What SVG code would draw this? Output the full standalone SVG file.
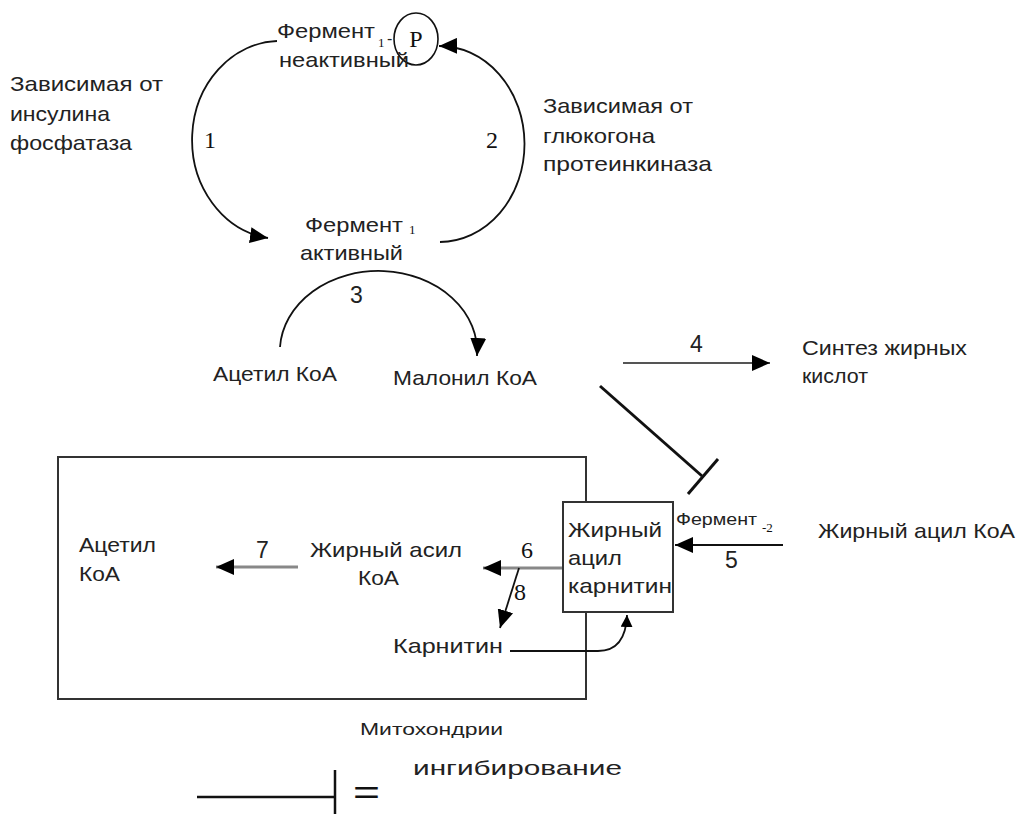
<svg xmlns="http://www.w3.org/2000/svg" width="1024" height="814" viewBox="0 0 1024 814">
  <style>
    .t { font-family: "Liberation Sans", Arial, sans-serif; font-size: 21px; fill: #222; }
    .s { font-family: "Liberation Sans", Arial, sans-serif; font-size: 16px; fill: #222; }
    .n { font-family: "Liberation Serif", "Times New Roman", serif; font-size: 24px; fill: #111; }
    .na { font-family: "Liberation Sans", Arial, sans-serif; font-size: 23px; fill: #222; }
    .sub { font-family: "Liberation Serif", "Times New Roman", serif; font-size: 13px; fill: #111; }
    .ln { fill: none; stroke: #111; stroke-width: 1.8; }
    .gr { fill: none; stroke: #888; stroke-width: 3; }
    .dg { fill: none; stroke: #555; stroke-width: 2; }
    .inh { fill: none; stroke: #111; stroke-width: 3; }
  </style>
  <defs>
    <marker id="ah" markerUnits="userSpaceOnUse" markerWidth="20" markerHeight="16" refX="18" refY="8" orient="auto">
      <path d="M0,0 L18,8 L0,16 Z" fill="#000"/>
    </marker>
    <marker id="ahs" markerUnits="userSpaceOnUse" markerWidth="14" markerHeight="12" refX="12" refY="6" orient="auto">
      <path d="M0,0 L12,6 L0,12 Z" fill="#000"/>
    </marker>
  </defs>
  <rect width="1024" height="814" fill="#fff"/>

  <g id="mitochondria">
    <rect x="58" y="457" width="528" height="242" fill="none" stroke="#333" stroke-width="2"/>
    <text class="s" x="360" y="735" font-size="17" textLength="143" lengthAdjust="spacingAndGlyphs">Митохондрии</text>
  </g>

  <g id="connectors">
    <path class="ln" d="M277,41 A88,99 0 0 0 268,238" marker-end="url(#ah)"/>
    <path class="ln" d="M440,242 A85,98 0 0 0 439,46" marker-end="url(#ah)"/>
    <path class="ln" d="M280,347 A98,80 0 0 1 477,356" marker-end="url(#ah)"/>
    <path class="dg" d="M623,363 L770,363" marker-end="url(#ah)"/>
    <path class="inh" d="M600,386 L702,476"/>
    <path class="inh" d="M718,459 L688,494"/>
    <path class="ln" d="M783,545 L675,545" marker-end="url(#ah)"/>
    <path class="gr" d="M563,568 L483,568" marker-end="url(#ah)"/>
    <path class="gr" d="M298,567 L216,567" marker-end="url(#ah)"/>
    <path class="ln" d="M519,568 L500,628" marker-end="url(#ah)"/>
    <path class="ln" d="M510,651 L598,651 C614,651 626,642 627,615" marker-end="url(#ahs)"/>
  </g>

  <g id="labels">
    <text class="n" x="204" y="148">1</text>
    <text class="n" x="486" y="148">2</text>
    <text class="na" x="350" y="303">3</text>
    <text class="na" x="690" y="352">4</text>
    <text class="na" x="725" y="568">5</text>
    <text class="n" x="521" y="558">6</text>
    <text class="na" x="256" y="558">7</text>
    <text class="n" x="514" y="600">8</text>
  </g>

  <g id="enzyme-inactive">
    <text class="t" x="277" y="38" textLength="98" lengthAdjust="spacingAndGlyphs">Фермент</text>
    <text class="sub" x="378" y="47" font-size="11">1</text>
    <text class="s" x="387" y="44">-</text>
    <ellipse cx="416" cy="39" rx="22" ry="26" fill="none" stroke="#111" stroke-width="1.6"/>
    <text class="n" x="416" y="47" font-size="22" text-anchor="middle">P</text>
    <text class="t" x="279" y="67" textLength="130" lengthAdjust="spacingAndGlyphs">неактивный</text>
  </g>

  <g id="phosphatase">
    <text class="t" x="10" y="91" textLength="153" lengthAdjust="spacingAndGlyphs">Зависимая от</text>
    <text class="t" x="10" y="121" textLength="100" lengthAdjust="spacingAndGlyphs">инсулина</text>
    <text class="t" x="10" y="150" textLength="122" lengthAdjust="spacingAndGlyphs">фосфатаза</text>
  </g>

  <g id="proteinkinase">
    <text class="t" x="543" y="113" textLength="150" lengthAdjust="spacingAndGlyphs">Зависимая от</text>
    <text class="t" x="543" y="143" textLength="112" lengthAdjust="spacingAndGlyphs">глюкогона</text>
    <text class="t" x="543" y="171" textLength="169" lengthAdjust="spacingAndGlyphs">протеинкиназа</text>
  </g>

  <g id="enzyme-active">
    <text class="t" x="305" y="232" textLength="98" lengthAdjust="spacingAndGlyphs">Фермент</text>
    <text class="sub" x="409" y="234">1</text>
    <text class="t" x="300" y="260" textLength="103" lengthAdjust="spacingAndGlyphs">активный</text>
  </g>

  <g id="acetyl-coa">
    <text class="t" x="213" y="381" textLength="124" lengthAdjust="spacingAndGlyphs">Ацетил КоА</text>
  </g>

  <g id="malonyl-coa">
    <text class="t" x="393" y="385" textLength="144" lengthAdjust="spacingAndGlyphs">Малонил КоА</text>
  </g>

  <g id="fa-synthesis">
    <text class="t" x="802" y="355" textLength="165" lengthAdjust="spacingAndGlyphs">Синтез жирных</text>
    <text class="t" x="802" y="383" textLength="66" lengthAdjust="spacingAndGlyphs">кислот</text>
  </g>

  <g id="fatty-acyl-coa-out">
    <text class="t" x="818" y="538" textLength="197" lengthAdjust="spacingAndGlyphs">Жирный ацил КоА</text>
  </g>

  <g id="enzyme2">
    <text class="s" x="676" y="525" textLength="81" lengthAdjust="spacingAndGlyphs">Фермент</text>
    <text class="sub" x="762" y="532" font-size="11">-2</text>
  </g>

  <g id="acyl-carnitine">
    <rect x="563" y="502" width="110" height="110" fill="#fff" stroke="#333" stroke-width="2"/>
    <text class="t" x="568" y="537" textLength="94" lengthAdjust="spacingAndGlyphs">Жирный</text>
    <text class="t" x="568" y="565" textLength="54" lengthAdjust="spacingAndGlyphs">ацил</text>
    <text class="t" x="568" y="593" textLength="104" lengthAdjust="spacingAndGlyphs">карнитин</text>
  </g>

  <g id="fatty-acyl-coa-in">
    <text class="t" x="310" y="557" textLength="152" lengthAdjust="spacingAndGlyphs">Жирный асил</text>
    <text class="t" x="358" y="585" textLength="41" lengthAdjust="spacingAndGlyphs">КоА</text>
  </g>

  <g id="acetyl-coa-in">
    <text class="t" x="79" y="552" textLength="77" lengthAdjust="spacingAndGlyphs">Ацетил</text>
    <text class="t" x="79" y="581" textLength="41" lengthAdjust="spacingAndGlyphs">КоА</text>
  </g>

  <g id="carnitine">
    <text class="t" x="393" y="653" textLength="110" lengthAdjust="spacingAndGlyphs">Карнитин</text>
  </g>

  <g id="legend">
    <path d="M197,797 L335,797" stroke="#111" stroke-width="2.5" fill="none"/>
    <path d="M335,770 L335,814" stroke="#111" stroke-width="2.5" fill="none"/>
    <text x="353" y="804" font-family="Liberation Sans, Arial, sans-serif" font-size="34" fill="#111" textLength="27" lengthAdjust="spacingAndGlyphs">=</text>
    <text class="t" x="413" y="775" font-size="22" textLength="209" lengthAdjust="spacingAndGlyphs">ингибирование</text>
  </g>
</svg>
